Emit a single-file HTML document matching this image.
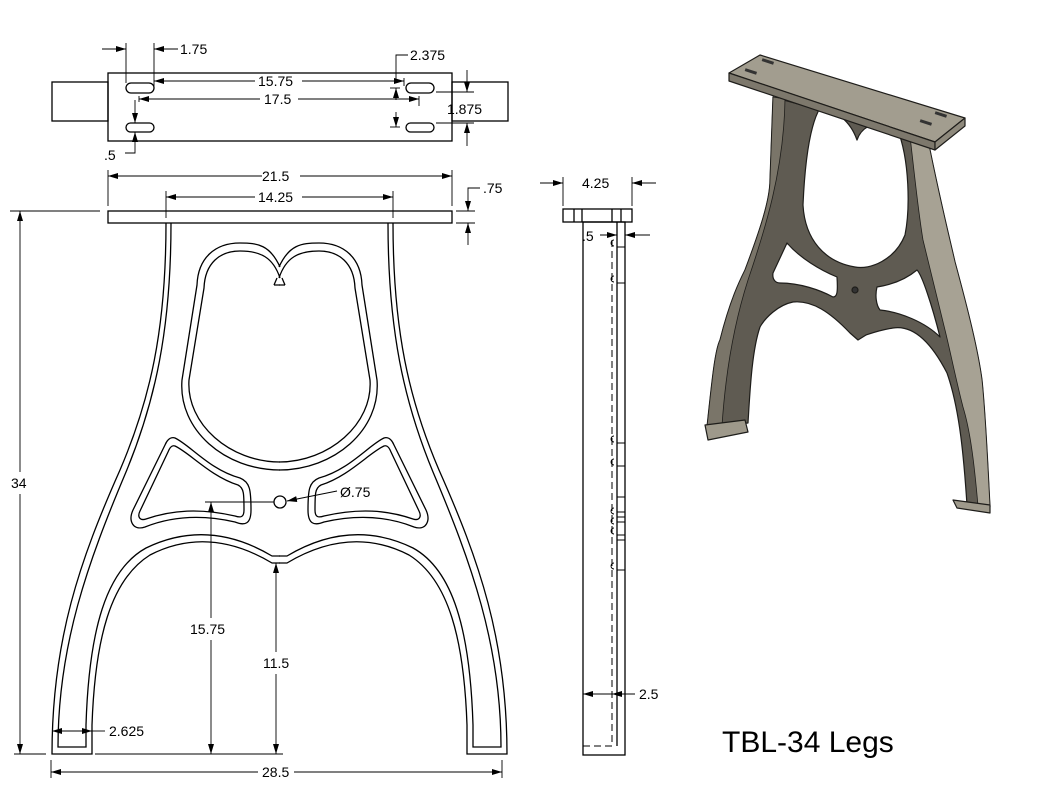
<!DOCTYPE html>
<html><head><meta charset="utf-8"><style>
html,body{margin:0;padding:0;background:#fff;}
svg{display:block;}
text{font-family:"Liberation Sans",Arial,sans-serif;font-size:14px;fill:#000;}
</style></head><body>
<svg width="1049" height="802" viewBox="0 0 1049 802" xmlns="http://www.w3.org/2000/svg">
<defs>
<marker id="a" viewBox="0 0 10 6" refX="10" refY="3" markerWidth="10" markerHeight="6" markerUnits="userSpaceOnUse" orient="auto-start-reverse"><path d="M0,0 L10,3 L0,6 Z" fill="#000"/></marker>
</defs>
<g fill="none" stroke="#000" stroke-width="1.3">
<rect x="52" y="82" width="56" height="39"/>
<rect x="452" y="82" width="56" height="39"/>
<rect x="108" y="73" width="344" height="68"/>
<rect x="126" y="83" width="28" height="10" rx="5"/>
<rect x="126" y="123" width="28" height="9" rx="4.5"/>
<rect x="406" y="83" width="28" height="10" rx="5"/>
<rect x="406" y="123" width="28" height="9" rx="4.5"/>
</g>
<g fill="none" stroke="#000" stroke-width="0.9">
<line x1="126" y1="43" x2="126" y2="83"/><line x1="154" y1="43" x2="154" y2="88"/>
<line x1="102" y1="49" x2="126" y2="49" marker-end="url(#a)"/>
<line x1="178" y1="49" x2="154" y2="49" marker-end="url(#a)"/>
<line x1="154" y1="81" x2="255" y2="81" marker-start="url(#a)"/><line x1="302" y1="81" x2="404" y2="81" marker-end="url(#a)"/>
<line x1="404" y1="78" x2="404" y2="86"/>
<line x1="139" y1="96" x2="139" y2="102"/><line x1="139" y1="99" x2="260" y2="99" marker-start="url(#a)"/>
<line x1="298" y1="99" x2="419" y2="99" marker-end="url(#a)"/><line x1="419" y1="96" x2="419" y2="106"/>
<polyline points="408,55 396,55 396,80"/>
<line x1="396" y1="100" x2="396" y2="88" marker-end="url(#a)"/><line x1="396" y1="112" x2="396" y2="127" marker-end="url(#a)"/>
<line x1="390" y1="88" x2="400" y2="88"/><line x1="390" y1="127" x2="400" y2="127"/>
<line x1="436" y1="92" x2="474" y2="92"/><line x1="436" y1="123" x2="474" y2="123"/>
<line x1="467" y1="70" x2="467" y2="92" marker-end="url(#a)"/><line x1="467" y1="146" x2="467" y2="123" marker-end="url(#a)"/>
<line x1="135" y1="100" x2="135" y2="123" marker-end="url(#a)"/>
<polyline points="125,153 135,153 135,132" marker-end="url(#a)"/>
</g>
<text x="180" y="54">1.75</text>
<text x="258" y="86">15.75</text>
<text x="264" y="104">17.5</text>
<text x="410" y="60">2.375</text>
<text x="447" y="114">1.875</text>
<text x="104" y="160">.5</text>

<!-- front view -->
<g fill="none" stroke="#000" stroke-width="0.9">
<line x1="108" y1="170" x2="108" y2="206"/><line x1="452" y1="170" x2="452" y2="206"/>
<line x1="108" y1="176" x2="262" y2="176" marker-start="url(#a)"/><line x1="300" y1="176" x2="452" y2="176" marker-end="url(#a)"/>
<line x1="166" y1="191" x2="166" y2="218"/><line x1="393" y1="191" x2="393" y2="218"/>
<line x1="166" y1="197" x2="255" y2="197" marker-start="url(#a)"/><line x1="302" y1="197" x2="393" y2="197" marker-end="url(#a)"/>
<line x1="456" y1="211" x2="475" y2="211"/><line x1="456" y1="223" x2="475" y2="223"/>
<polyline points="480,188 468,188 468,211" marker-end="url(#a)"/>
<line x1="468" y1="245" x2="468" y2="223" marker-end="url(#a)"/>
<line x1="10" y1="211" x2="100" y2="211"/><line x1="14" y1="754" x2="46" y2="754"/>
<line x1="20" y1="472" x2="20" y2="211" marker-end="url(#a)"/><line x1="20" y1="494" x2="20" y2="754" marker-end="url(#a)"/>
<line x1="95" y1="754" x2="283" y2="754"/>
<line x1="205" y1="502" x2="274" y2="502"/>
<line x1="211" y1="618" x2="211" y2="502" marker-end="url(#a)"/><line x1="211" y1="640" x2="211" y2="754" marker-end="url(#a)"/>
<line x1="276" y1="652" x2="276" y2="563" marker-end="url(#a)"/><line x1="276" y1="674" x2="276" y2="754" marker-end="url(#a)"/>
<line x1="51" y1="760" x2="51" y2="778"/><line x1="502" y1="760" x2="502" y2="778"/>
<line x1="51" y1="772" x2="258" y2="772" marker-start="url(#a)"/><line x1="294" y1="772" x2="502" y2="772" marker-end="url(#a)"/>
<line x1="52" y1="731" x2="92" y2="731" marker-start="url(#a)" marker-end="url(#a)"/><line x1="92" y1="731" x2="105" y2="731"/>
<line x1="337" y1="491" x2="287" y2="501" marker-end="url(#a)"/>
</g>
<text x="483" y="193">.75</text>
<text x="262" y="181">21.5</text>
<text x="258" y="202">14.25</text>
<text x="11" y="488">34</text>
<text x="190" y="634">15.75</text>
<text x="263" y="668">11.5</text>
<text x="262" y="777">28.5</text>
<text x="109" y="736">2.625</text>
<text x="340" y="497">Ø.75</text>

<g fill="none" stroke="#000" stroke-width="1.3">
<rect x="108" y="211" width="344" height="12"/>
<circle cx="280" cy="502" r="6"/>
<g id="half">
<path d="M166,223 C166,330 150,400 120,470 C80,560 52,640 52,754 L92,754 L92,725 C95,640 110,580 150,555 C185,537 225,535 272,563 L280,563"/>
<path d="M171,223 C171,330 155,402 126,472 C88,562 58,645 58,747 L86,747 L86,725 C89,630 106,570 146,548 C183,530 225,528 272,556 L280,556"/>
<path d="M280,267 C270,245 258,243 240,243 C215,243 198,258 197,285 L182,380 C178,430 225,470 280,470"/>
<path d="M280,278 C273,257 260,251 240,251 C220,251 205,263 204,288 L189,380 C186,424 230,462 280,462"/>
<path d="M274,285 L280,285 M274,285 L277,278"/>
<path d="M175,438 C190,445 210,470 240,478 C250,482 251,490 251,510 C251,524 245,526 235,522 C200,514 170,517 145,527 C133,531 128,521 133,510 L165,445 C168,438 172,437 175,438 Z"/>
<path d="M175,446 C190,453 210,476 238,485 C244,488 244,494 244,510 C244,517 241,518 235,516 C200,508 172,510 146,519 C140,521 137,517 140,511 L168,452 C170,447 172,445 175,446 Z"/>
</g>
<use href="#half" transform="translate(559,0) scale(-1,1)"/>
</g>

<!-- side view -->
<g fill="none" stroke="#000" stroke-width="1.3">
<rect x="563" y="209" width="69" height="13"/>
<line x1="574" y1="209" x2="574" y2="222"/><line x1="582" y1="209" x2="582" y2="222"/>
<line x1="612" y1="209" x2="612" y2="222"/><line x1="621" y1="209" x2="621" y2="222"/>
<rect x="583" y="222" width="42" height="533"/>
<line x1="617" y1="222" x2="617" y2="746"/>
<path d="M612,240 L612,746 L583,746" stroke-dasharray="7,4" stroke-width="1"/>
</g>
<g fill="none" stroke="#000" stroke-width="0.9">
<path d="M614,240 a3,3 0 0 0 0,6 M614,276 a3,3 0 0 0 0,6 M614,436 a3,3 0 0 0 0,6 M614,459 a3,3 0 0 0 0,6 M614,508 a3,3 0 0 0 0,6 M614,518 a3,3 0 0 0 0,6 M614,528 a3,3 0 0 0 0,6 M614,563 a3,3 0 0 0 0,6"/>
<path d="M617,247 H625 M617,283 H625 M617,443 H625 M617,466 H625 M617,497 H625 M617,512 H625 M617,517 H625 M617,522 H625 M617,535 H625 M617,540 H625 M617,570 H625"/>
<line x1="563" y1="177" x2="563" y2="206"/><line x1="632" y1="177" x2="632" y2="206"/>
<line x1="540" y1="183" x2="563" y2="183" marker-end="url(#a)"/><line x1="656" y1="183" x2="632" y2="183" marker-end="url(#a)"/>
<line x1="600" y1="235" x2="617" y2="235" marker-end="url(#a)"/><line x1="650" y1="235" x2="625" y2="235" marker-end="url(#a)"/>
<line x1="625" y1="228" x2="625" y2="240"/>
<line x1="612" y1="694" x2="583" y2="694" marker-end="url(#a)"/>
<line x1="635" y1="694" x2="612" y2="694" marker-end="url(#a)"/>
</g>
<text x="582" y="188">4.25</text>
<text x="582" y="241">.5</text>
<text x="639" y="699">2.5</text>

<!-- 3D render -->
<g stroke="#1e1d1a" stroke-width="1.2" stroke-linejoin="round">
<path d="M773,97 L928,140 C940,200 950,240 955,262 C968,310 978,350 982,380 C986,420 988,470 990,507 L967,505 C964,460 960,410 947,373 C930,340 912,325 893,328 C880,330 872,333 866,335 L858,340 L850,333 C830,312 812,300 793,302 C778,305 765,318 760,327 C752,350 750,390 748,423 L707,427 C712,380 715,350 720,340 C730,300 740,280 745,270 C760,230 770,200 770,180 Z" fill="#5f5b52"/>
<path d="M910,136 L928,140 C940,200 950,240 955,262 C968,310 978,350 982,380 C986,420 988,470 990,507 L978,506 C974,460 970,430 963,407 C956,380 950,350 945,330 C935,290 928,260 923,240 C918,210 914,170 910,136 Z" fill="#a7a294" stroke-width="0.8"/>
<path d="M773,97 L785,99 C784,170 765,230 748,280 C732,330 725,380 722,426 L707,427 C712,380 715,350 720,340 C730,300 740,280 745,270 C760,230 770,200 770,180 Z" fill="#7a7569" stroke-width="0.8"/>
<path d="M820,108 C835,110 850,120 857,140 C862,125 880,118 897,128 C910,160 910,210 905,235 C895,260 870,270 855,267 C825,262 805,240 803,205 C805,160 810,125 820,108 Z" fill="#fff"/>
<path d="M787,243 L773,273 C772,280 776,283 780,283 C800,283 820,290 833,297 C837,297 838,293 837,277 C820,270 800,258 787,243 Z" fill="#fff"/>
<path d="M877,287 C890,285 905,280 917,270 C922,275 932,305 940,337 C925,322 900,312 880,310 C876,305 875,295 877,287 Z" fill="#fff"/>
<circle cx="855" cy="290" r="3" fill="#333"/>
<path d="M705,425 L745,420 L748,432 L708,440 Z" fill="#9e998b"/>
<path d="M953,500 L990,505 L990,513 L957,508 Z" fill="#9e998b"/>
<path d="M729,73 L760,55 L965,118 L935,142 Z" fill="#a29d8f"/>
<path d="M729,73 L935,142 L935,150 L729,81 Z" fill="#7d786c"/>
<path d="M935,142 L965,118 L965,126 L935,150 Z" fill="#8e897c"/>
<g fill="#333" stroke="none">
<rect x="745" y="70" width="12" height="3" transform="rotate(18 751 71)"/>
<rect x="762" y="60" width="12" height="3" transform="rotate(18 768 61)"/>
<rect x="920" y="121" width="12" height="3" transform="rotate(18 926 122)"/>
<rect x="935" y="113" width="12" height="3" transform="rotate(18 941 114)"/>
</g>
</g>
<text x="722" y="752" style="font-size:30px">TBL-34 Legs</text>
</svg>
</body></html>
